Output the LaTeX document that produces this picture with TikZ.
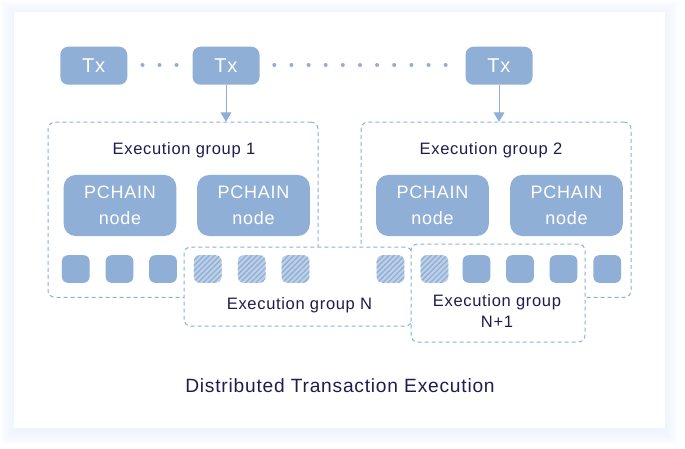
\documentclass[tikz,border=0pt]{standalone}
\usepackage{fontspec}
\setmainfont{Liberation Sans}[LetterSpace=4]
\usetikzlibrary{arrows.meta,patterns.meta}

\definecolor{boxblue}{RGB}{143,175,214}
\definecolor{hatchbg}{RGB}{190,208,232}
\definecolor{dashblue}{RGB}{140,176,220}
\definecolor{navy}{RGB}{32,28,78}
\definecolor{shadowblue}{RGB}{222,231,250}

\tikzset{every picture/.style={line width=0.75pt}}
\tikzset{
  txbox/.style={fill=boxblue, rounded corners=6pt, minimum width=50.25pt, minimum height=28.5pt, inner sep=0pt, text=white, font=\fontsize{15}{17}\selectfont},
  chainbox/.style={fill=boxblue, rounded corners=9pt, minimum width=84.5pt, minimum height=45.75pt, inner sep=0pt, text=white, align=center, font=\fontsize{13.5}{19.5}\selectfont},
  slot/.style={fill=boxblue, rounded corners=4.5pt, minimum size=20.75pt, inner sep=0pt},
  hatchslot/.style={slot, fill=hatchbg, postaction={pattern={Lines[angle=45,distance=2.8pt,line width=1pt]}, pattern color=boxblue}},
  groupbox/.style={draw=dashblue, dash pattern={on 3pt off 2.25pt}, fill=white, rounded corners=5pt, inner sep=0pt},
  grouplabel/.style={text=navy, inner sep=0.75pt, align=center, font=\fontsize{12.4}{16}\selectfont},
  txarrow/.style={draw=boxblue, -{Triangle[width=8pt,length=7pt]}},
  dot/.style={fill=boxblue}
}

\begin{document}
\begin{tikzpicture}[x=0.75pt,y=0.75pt,yscale=-1,xscale=1]
	\useasboundingbox (0,0) rectangle (685,449);

	%Shape: card shadow
	\foreach \s in {1,...,14}
		\fill [shadowblue, opacity=0.045] (14-\s,14-\s) rectangle (665+\s,431+\s);
	%Shape: card
	\fill [white] (14,12) rectangle (665,428);

	% Tx nodes
	\node [txbox] (tx1) at (93.75,65.75) {Tx};
	\node [txbox] (tx2) at (226,65.75) {Tx};
	\node [txbox] (tx3) at (499,65.75) {Tx};

	%Shape: dots
	\fill [dot] (142.5,65) circle (2);
	\fill [dot] (159.5,65) circle (2);
	\fill [dot] (176.5,65) circle (2);
	\fill [dot] (274.3,65) circle (2);
	\fill [dot] (291.4,65) circle (2);
	\fill [dot] (308.6,65) circle (2);
	\fill [dot] (325.7,65) circle (2);
	\fill [dot] (342.8,65) circle (2);
	\fill [dot] (360,65) circle (2);
	\fill [dot] (377.1,65) circle (2);
	\fill [dot] (394.2,65) circle (2);
	\fill [dot] (411.4,65) circle (2);
	\fill [dot] (428.5,65) circle (2);
	\fill [dot] (445.6,65) circle (2);

	% Execution groups 1 and 2
	\node [groupbox, minimum width=202.5pt, minimum height=131.25pt] (grp1) at (183,209.75) {};
	\node [groupbox, minimum width=202.5pt, minimum height=131.25pt] (grp2) at (496,209.75) {};

	% Arrows
	\draw [txarrow] (tx2.south) -- (tx2.south |- grp1.north);
	\draw [txarrow] (tx3.south) -- (tx3.south |- grp2.north);

	% Text Node
	\node [grouplabel] (lbl1) at (184,150) {Execution group 1};
	\node [grouplabel] (lbl2) at (491,150) {Execution group 2};

	% PCHAIN nodes
	\node [chainbox] (pc1) at (120,205.5) {PCHAIN\\node};
	\node [chainbox] (pc2) at (253.5,205.5) {PCHAIN\\node};
	\node [chainbox] (pc3) at (432.5,205.5) {PCHAIN\\node};
	\node [chainbox] (pc4) at (566.5,205.5) {PCHAIN\\node};

	% Execution groups N and N+1
	\node [groupbox, minimum width=171pt, minimum height=59.25pt] (grpN) at (298,286.5) {};
	\node [groupbox, minimum width=130.5pt, minimum height=73.5pt] (grpM) at (498,293) {};

	% Slots
	\node [slot] (s1) at (75.75,269) {};
	\node [slot] (s2) at (119.5,269) {};
	\node [slot] (s3) at (163,269) {};
	\node [hatchslot] (s4) at (207.75,269) {};
	\node [hatchslot] (s5) at (251.75,269) {};
	\node [hatchslot] (s6) at (295.5,269) {};
	\node [hatchslot] (s7) at (390.5,269) {};
	\node [hatchslot] (s8) at (434.5,269) {};
	\node [slot] (s9) at (476.5,269) {};
	\node [slot] (s10) at (520,269) {};
	\node [slot] (s11) at (563.5,269) {};
	\node [slot] (s12) at (607.25,269) {};

	% Text Node
	\node [grouplabel] (lblN) at (299.5,305) {Execution group N};
	\node [grouplabel] (lblM) at (497,311) {Execution group\\N+1};

	% Text Node
	\node [text=navy, inner sep=0.75pt, font=\fontsize{14.4}{16}\selectfont] (title) at (340,386) {Distributed Transaction Execution};
\end{tikzpicture}
\end{document}
